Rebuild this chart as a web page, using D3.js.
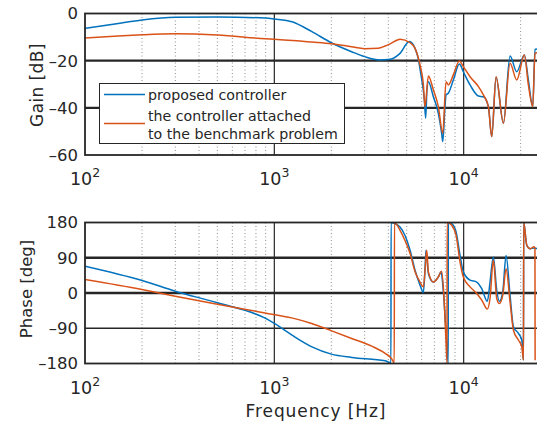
<!DOCTYPE html>
<html lang="en">

<head>
    <meta charset="UTF-8">
    <script src="https://d3js.org/d3.v7.min.js"></script>
    <title>Bode</title>
    <style>
        body { margin: 0; background: #fff; }
        text { font-family: "DejaVu Sans", sans-serif; fill: #262626; }
    </style>
</head>

<body>
    <svg id="mainsvg" width="537" height="422"></svg>

    <script>
        // data (frequency in Hz)
        const gainFreqBlue = [100, 150, 200, 300, 500, 900, 1000, 1240, 1580, 2000, 2560, 3000, 3600, 4085, 4613, 5166, 5537, 5750, 5950, 6200, 6300, 6400, 6512, 6918, 7350, 7650, 7755, 7950, 8072, 8300, 8820, 9490, 9960, 10810, 11970, 12710, 13510, 14070, 14830, 16220, 17580, 19070, 20920, 21970, 23170, 23820, 25000]
        const gainBlue = [-6.3, -4.2, -2.75, -1.6, -1.5, -1.9, -2.3, -3.5, -7.7, -12.4, -16.2, -18.3, -19.7, -19.4, -16.9, -11.9, -14.8, -19, -26, -36.7, -44.4, -32.4, -28.9, -35.3, -42.3, -50.7, -54.3, -40.9, -34.5, -33.8, -28.2, -21.4, -24.7, -30.3, -35, -35.3, -39.5, -52.2, -27, -46.5, -18, -24.7, -17.6, -28.2, -39.5, -15.2, -15]

        const gainFreqOrange = [100, 150, 200, 300, 500, 900, 1000, 1580, 2000, 2560, 3000, 3540, 3845, 4085, 4613, 5213, 5537, 5883, 6124, 6250, 6512, 6918, 7350, 7755, 8072, 8300, 8820, 9490, 9960, 10810, 11970, 12710, 13510, 14070, 14830, 16220, 17580, 19070, 20920, 21970, 23170, 23820, 25000]
        const gainOrange = [-10.4, -9.5, -9.0, -8.6, -9.1, -10.7, -10.9, -12.1, -12.8, -14.1, -14.9, -14.7, -13.8, -12.9, -10.9, -12.4, -14.8, -21.8, -30, -39.5, -26.5, -32.4, -39.5, -50.8, -28.9, -30.3, -26, -20.1, -22.5, -26.8, -31, -34.5, -39.5, -52.2, -26.8, -46.5, -21.1, -28.2, -17.6, -30.3, -39.5, -16.9, -16.5]

        const phaseFreqBlue = [100, 200, 300, 500, 900, 1000, 1240, 1580, 2000, 2560, 3845, 4130, 4136, 4300, 4613, 4900, 5213, 5537, 5883, 6124, 6250, 6328, 6512, 6918, 7350, 7595, 7815, 8072, 8290, 8300, 8640, 9120, 9570, 9960, 10810, 11720, 12460, 13340, 13780, 14350, 14950, 15440, 16090, 16750, 17580, 18320, 19460, 20280, 20700, 20750, 21550, 22440, 23540, 25000]
        const phaseBlue = [68.4, 31.9, 4.6, -25, -65, -77.8, -107.6, -137.5, -156, -164.5, -173, -178, 180, 178, 168.6, 147, 109, 58, 20, 1, 62, 109, 50, 28, 41, 54, 3, -99, -179, 180, 177, 156, 96, 54, 32.7, 28, 11, -21, 28, 92, 7, -21, 3, 96, -5.6, -86, -103, -120, -171, 180, 122, 113, 115, 112]

        const phaseFreqOrange = [100, 200, 300, 500, 893, 1235, 1575, 2009, 2563, 3268, 3845, 4170, 4300, 4310, 4613, 4900, 5213, 5537, 5883, 6124, 6283, 6380, 6512, 6918, 7350, 7655, 7878, 8072, 8170, 8180, 8640, 9120, 9570, 9960, 10810, 11720, 12460, 13340, 13780, 14350, 14950, 15440, 16090, 16750, 17580, 18320, 19460, 20280, 20700, 20750, 21550, 22440, 23540, 23800, 23850]
        const phaseOrange = [34.4, 8.9, -8.2, -28.6, -50.8, -63.5, -77.8, -96.7, -116, -135.7, -154, -168, -179, 180, 160, 134, 101, 54, 28, 15.6, 71, 109, 54, 28, 41, 55.6, -14, -125, -179, 180, 173, 147, 79, 41, 15.6, -1, -18, -41, -14, 84, -14, -27, -5.6, 62, -23, -95, -120, -137, -171, 180, 122, 113, 118, 115, -172]

        const xTickValues = [100, 1000, 10000]
        const xTickExp = ['2', '3', '4']
        const gainTicks = [0, -20, -40, -60]
        const phaseTicks = [180, 90, 0, -90, -180]
        const seriesNames = ['proposed controller', 'the controller attached', 'to the benchmark problem']

        const blue = '#0072BD'
        const orange = '#D95319'

        const svg = d3.select('#mainsvg')
        const left = 85, right = 539

        const xScale = d3.scaleLog().domain([100, 25000]).range([left, right])

        svg.append('clipPath').attr('id', 'clipTop')
            .append('rect').attr('x', left).attr('y', 13.5).attr('width', right - left).attr('height', 141.5)
        svg.append('clipPath').attr('id', 'clipBot')
            .append('rect').attr('x', left).attr('y', 222.5).attr('width', right - left).attr('height', 141)

        // one panel of the bode plot
        const panel = function (yScale, ticks, thick, clipId, series) {
            const [yBot, yTop] = yScale.range()
            const g = svg.append('g')

            // minor dotted grid
            const minors = []
            for (let d = 100; d < 25000; d *= 10) {
                for (let k = 2; k <= 9; k++) if (d * k < 25000) minors.push(d * k)
            }
            g.selectAll('.minor').data(minors).enter().append('line')
                .attr('x1', d => xScale(d)).attr('x2', d => xScale(d))
                .attr('y1', yTop).attr('y2', yBot)
                .attr('stroke', '#8c8c8c').attr('stroke-width', 1)
                .attr('stroke-dasharray', '1,2.5')

            // major vertical grid
            g.selectAll('.vmaj').data(xTickValues.slice(1)).enter().append('line')
                .attr('x1', d => xScale(d)).attr('x2', d => xScale(d))
                .attr('y1', yTop).attr('y2', yBot)
                .attr('stroke', '#262626').attr('stroke-width', 1.2)

            // major horizontal grid
            g.selectAll('.hmaj').data(ticks.slice(1, -1)).enter().append('line')
                .attr('x1', left).attr('x2', right)
                .attr('y1', d => yScale(d)).attr('y2', d => yScale(d))
                .attr('stroke', '#262626')
                .attr('stroke-width', d => thick.includes(d) ? 2.4 : 1.3)

            // curves
            series.forEach(s => {
                const line = d3.line()
                    .x((d, i) => xScale(s.f[i]))
                    .y(d => yScale(d))
                    .curve(d3.curveMonotoneX)
                g.append('path')
                    .attr('d', line(s.v))
                    .attr('fill', 'none')
                    .attr('stroke', s.color)
                    .attr('stroke-width', 1.5)
                    .attr('clip-path', `url(#${clipId})`)
            })

            // frame
            g.append('rect')
                .attr('x', left).attr('y', yTop)
                .attr('width', right - left).attr('height', yBot - yTop)
                .attr('fill', 'none').attr('stroke', '#262626').attr('stroke-width', 1.8)

            // y tick labels
            g.selectAll('.ylab').data(ticks).enter().append('text')
                .attr('x', 78).attr('y', d => yScale(d))
                .attr('dy', '0.36em')
                .attr('text-anchor', 'end')
                .attr('font-size', 16.5)
                .text(d => d < 0 ? '\u2013' + Math.abs(d) : d)

            // x tick labels 10^n
            xTickValues.forEach((v, i) => {
                const t = g.append('text')
                    .attr('x', xScale(v)).attr('y', yBot + 30)
                    .attr('text-anchor', 'middle')
                    .attr('font-size', 17.5)
                t.append('tspan').text('10')
                t.append('tspan').attr('dy', -8).attr('font-size', 12.5).text(xTickExp[i])
            })
            return g
        }

        const yGain = d3.scaleLinear().domain([-60, 0]).range([155, 13.5])
        const yPhase = d3.scaleLinear().domain([-180, 180]).range([363.5, 222.5])

        panel(yGain, gainTicks, [-20, -40], 'clipTop', [
            { f: gainFreqBlue, v: gainBlue, color: blue },
            { f: gainFreqOrange, v: gainOrange, color: orange }
        ])
        panel(yPhase, phaseTicks, [90, 0], 'clipBot', [
            { f: phaseFreqBlue, v: phaseBlue, color: blue },
            { f: phaseFreqOrange, v: phaseOrange, color: orange }
        ])

        // axis titles
        svg.append('text')
            .attr('transform', 'translate(43, 85) rotate(-90)')
            .attr('text-anchor', 'middle').attr('font-size', 17)
            .attr('letter-spacing', 0.4)
            .text('Gain [dB]')
        svg.append('text')
            .attr('transform', 'translate(32, 289) rotate(-90)')
            .attr('text-anchor', 'middle').attr('font-size', 16.5)
            .text('Phase [deg]')
        svg.append('text')
            .attr('x', 316).attr('y', 417)
            .attr('text-anchor', 'middle').attr('font-size', 17)
            .attr('letter-spacing', 0.9)
            .text('Frequency [Hz]')

        // legend
        const lg = svg.append('g')
        lg.append('rect')
            .attr('x', 99.5).attr('y', 83.5).attr('width', 245).attr('height', 60)
            .attr('fill', '#fff').attr('stroke', '#262626').attr('stroke-width', 1)
        lg.append('line').attr('x1', 104).attr('x2', 145).attr('y1', 94.5).attr('y2', 94.5)
            .attr('stroke', blue).attr('stroke-width', 1.5)
        lg.append('line').attr('x1', 104).attr('x2', 145).attr('y1', 123.5).attr('y2', 123.5)
            .attr('stroke', orange).attr('stroke-width', 1.5)
        lg.selectAll('.lt').data(seriesNames).enter().append('text')
            .attr('x', 148).attr('y', (d, i) => [100, 120.5, 139][i])
            .attr('font-size', 14.2)
            .text(d => d)
    </script>
</body>

</html>
